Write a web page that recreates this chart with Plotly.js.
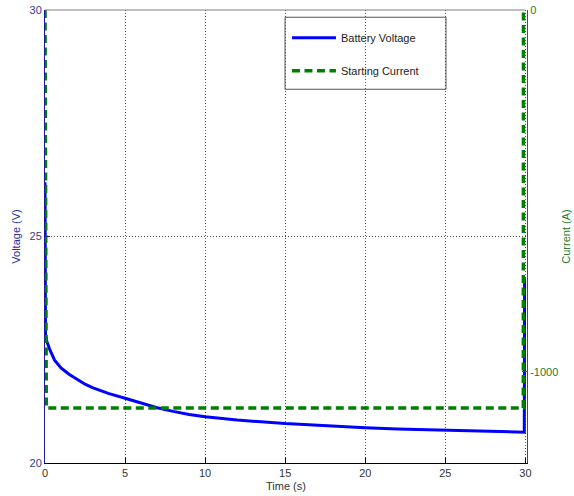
<!DOCTYPE html>
<html>
<head>
<meta charset="utf-8">
<script src="https://cdn.plot.ly/plotly-3.0.1.min.js"></script>
<style>html,body{margin:0;padding:0;background:#fff;}#chart{width:574px;height:496px;}</style>
</head>
<body>
<div id="chart"></div>
<script>
// Battery voltage (V) vs time (s)
const voltageTime = [0, 0.03, 0.1, 0.3, 0.6, 1.0, 1.5, 2, 2.5, 3, 4, 5, 6, 7, 8, 9, 10, 12, 15, 18, 20, 22, 25, 28, 29.93, 29.95];
const voltageValues = [26.2, 22.85, 22.7, 22.5, 22.27, 22.1, 21.96, 21.84, 21.74, 21.66, 21.53, 21.43, 21.32, 21.22, 21.14, 21.07, 21.02, 20.95, 20.87, 20.81, 20.78, 20.75, 20.72, 20.69, 20.68, 24.08];
// Starting current (A) vs time (s)
const currentTime = [0, 0.08, 29.87, 29.88];
const currentValues = [0, -1100, -1100, 0];
const xTicks = [0, 5, 10, 15, 20, 25, 30];
const leftTicks = [20, 25, 30];
const rightTicks = [-1000, 0];

const FONT = 'Liberation Sans, Arial, sans-serif';

const traces = [
  {
    x: voltageTime, y: voltageValues, type: 'scatter', mode: 'lines',
    name: 'Battery Voltage', yaxis: 'y', legendgroup: 'a',
    line: {color: '#0000ff', width: 3}
  },
  {
    x: currentTime, y: currentValues, type: 'scatter', mode: 'lines',
    name: 'Starting Current', yaxis: 'y2', legendgroup: 'b',
    line: {color: '#008000', width: 3.5, dash: '8px,4.5px'}
  }
];

const layout = {
  width: 574, height: 496,
  margin: {l: 45, r: 47, t: 10, b: 33, pad: 0},
  paper_bgcolor: '#ffffff', plot_bgcolor: '#ffffff',
  font: {family: FONT, size: 11, color: '#333'},
  showlegend: true,
  legend: {
    x: 0.502, y: 0.971, xanchor: 'left', yanchor: 'top',
    bgcolor: 'rgba(0,0,0,0)', borderwidth: 0,
    font: {family: FONT, size: 11, color: '#222'},
    tracegroupgap: 14, itemwidth: 44, traceorder: 'grouped'
  },
  xaxis: {
    range: [0, 30.1], tickvals: xTicks, ticktext: xTicks.map(String),
    ticks: 'inside', ticklen: 5, tickcolor: '#000',
    showline: true, linecolor: '#000', linewidth: 1, mirror: false,
    showgrid: true, gridcolor: '#555', griddash: '1px,2px', gridwidth: 1,
    zeroline: false, tickfont: {family: FONT, size: 11, color: '#333'},
    title: {text: 'Time (s)', font: {family: FONT, size: 11, color: '#333'}, standoff: 4}
  },
  yaxis: {
    range: [20, 30], tickvals: leftTicks, ticktext: leftTicks.map(String),
    ticks: 'inside', ticklen: 5, tickcolor: '#1a1a9a',
    showline: true, linecolor: '#1a1a9a', linewidth: 1,
    showgrid: true, gridcolor: '#555', griddash: '1px,2px', gridwidth: 1,
    zeroline: false, tickfont: {family: FONT, size: 11, color: '#3a3a8a'},
    title: {text: 'Voltage (V)', font: {family: FONT, size: 11, color: '#2a2aa0'}, standoff: 6}
  },
  yaxis2: {
    range: [-1252, 0], tickvals: rightTicks, ticktext: rightTicks.map(String),
    overlaying: 'y', side: 'right', anchor: 'x',
    ticks: 'inside', ticklen: 5, tickcolor: '#008000',
    showline: true, linecolor: '#008000', linewidth: 1,
    showgrid: false, zeroline: false,
    tickfont: {family: FONT, size: 11, color: '#2a7a2a'},
    title: {text: 'Current (A)', font: {family: FONT, size: 11, color: '#2a7a2a'}, standoff: 4}
  },
  shapes: [
    {type: 'line', xref: 'paper', yref: 'paper', x0: 0, x1: 0.996, y0: 1, y1: 1,
     line: {color: '#808080', width: 1}},
    {type: 'rect', xref: 'paper', yref: 'paper', x0: 0.498, x1: 0.832, y0: 0.984, y1: 0.825,
     line: {color: '#555', width: 1}, fillcolor: 'rgba(255,255,255,0)', layer: 'above'}
  ]
};

Plotly.newPlot('chart', traces, layout, {displayModeBar: false, staticPlot: true});
</script>
</body>
</html>
